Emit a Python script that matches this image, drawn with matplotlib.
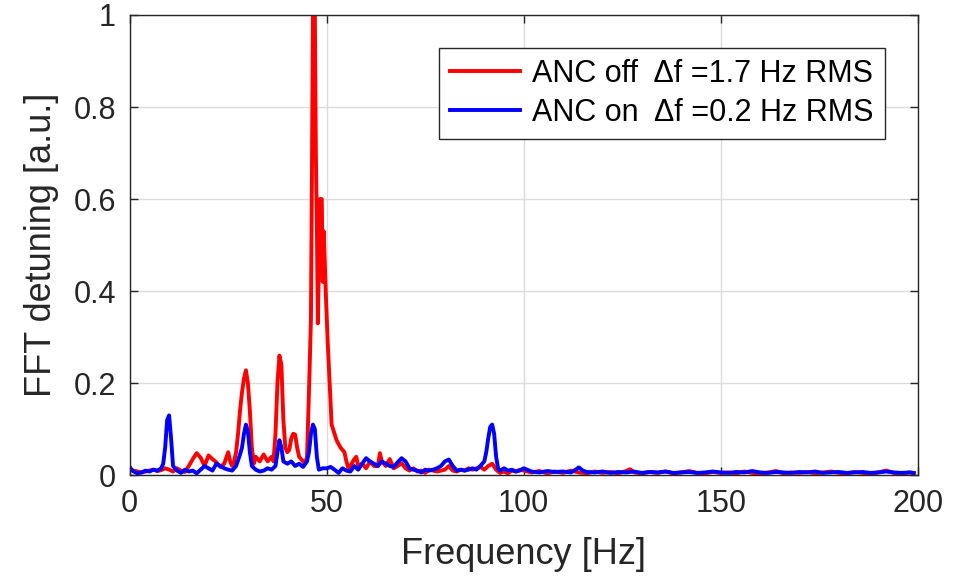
import matplotlib
matplotlib.use("Agg")
import matplotlib.pyplot as plt

# FFT of detuning, ANC off (red)
freq_off = [0, 1, 2, 3, 4, 5, 6, 7, 8, 9, 10, 11, 12, 13, 14, 15, 16, 17, 18, 19,
            20, 21, 22, 23, 24, 25, 25.5, 26, 26.5, 27, 27.5, 28, 28.5, 29, 29.5,
            30, 30.5, 31, 31.5, 32, 33, 34, 35, 36, 36.5, 37, 37.5, 38, 38.5, 39,
            39.5, 40, 40.5, 41, 41.5, 42, 42.5, 43, 43.5, 44, 44.5,
            45, 45.5, 46, 46.25, 46.5, 47, 47.25, 47.5, 47.75, 48, 48.25, 48.75,
            49, 49.25, 49.75, 50.25, 50.75, 51.25, 52, 52.5, 53.5, 54.5, 55, 55.5,
            56, 57, 57.5, 58, 59, 60, 61, 62, 63, 63.5, 64, 65, 66, 67,
            68, 69, 70, 71, 72, 73, 74, 75, 76, 77, 78, 79, 80, 81, 82, 83, 84,
            85, 86, 87, 88, 89, 90, 91, 92, 93, 94, 95, 96, 97, 98, 99, 100,
            102, 104, 106, 108, 110, 112, 114, 116, 118, 120, 122, 124, 126, 127,
            128, 130, 132, 134, 136, 138, 140, 142, 144, 146, 148, 150, 152, 154,
            156, 158, 160, 162, 164, 166, 168, 170, 172, 174, 176, 178, 180, 182,
            184, 186, 188, 190, 192, 194, 196, 198, 199]
amp_off = [0.012, 0.01, 0.008, 0.006, 0.008, 0.01, 0.012, 0.009, 0.011, 0.015,
           0.012, 0.008, 0.015, 0.01, 0.007, 0.02, 0.035, 0.048, 0.038, 0.02,
           0.043, 0.035, 0.028, 0.018, 0.025, 0.05, 0.03, 0.02, 0.03, 0.05, 0.09,
           0.14, 0.18, 0.21, 0.228, 0.2, 0.14, 0.06, 0.025, 0.04, 0.03, 0.045,
           0.03, 0.04, 0.03, 0.09, 0.2, 0.26, 0.24, 0.12, 0.06, 0.05, 0.055,
           0.08, 0.09, 0.088, 0.06, 0.04, 0.035, 0.03, 0.025,
           0.04, 0.18, 0.34, 0.65, 1.0, 1.0, 0.7, 0.55, 0.33, 0.45, 0.6, 0.6,
           0.42, 0.53, 0.4, 0.29, 0.2, 0.11, 0.09, 0.076, 0.06, 0.05, 0.03, 0.015,
           0.02, 0.035, 0.04, 0.02, 0.025, 0.015, 0.03,
           0.02, 0.02, 0.048, 0.03, 0.02, 0.035, 0.015, 0.02, 0.026, 0.015, 0.01,
           0.015, 0.008, 0.01, 0.005, 0.012, 0.01, 0.008, 0.01, 0.012, 0.02,
           0.01, 0.008, 0.012, 0.01, 0.015, 0.012, 0.015, 0.018, 0.012, 0.02,
           0.025, 0.012, 0.005, 0.008, 0.004, 0.01, 0.008, 0.012, 0.01,
           0.006, 0.009, 0.004, 0.008, 0.005, 0.01, 0.006, 0.004, 0.008, 0.005,
           0.007, 0.004, 0.009, 0.013, 0.006, 0.004, 0.007, 0.005, 0.008, 0.004,
           0.006, 0.009, 0.005, 0.004, 0.007, 0.005, 0.006, 0.004, 0.008, 0.005,
           0.003, 0.006, 0.009, 0.004, 0.006, 0.005, 0.007, 0.004, 0.006, 0.008,
           0.005, 0.004, 0.007, 0.005, 0.003, 0.006, 0.01, 0.005, 0.004, 0.006,
           0.004]

# FFT of detuning, ANC on (blue)
freq_on = [0, 0.5, 1, 2, 3, 4, 5, 6, 7, 8, 8.5, 9, 9.5, 10, 10.5, 11, 12, 13, 14,
           15, 16, 17, 18, 19, 20, 21, 22, 23, 24, 25, 26, 27, 28, 28.5, 29,
           29.5, 30, 30.5, 31, 32, 33, 34, 35, 36, 37, 37.5, 38, 38.5, 39, 40,
           41, 42, 43, 44, 45, 45.5, 46, 46.5, 47, 47.5, 48, 49, 50, 51, 52, 53,
           54, 55, 56, 57, 58, 59, 60, 61, 62, 63, 64, 65, 66, 67, 68, 69, 70,
           71, 72, 73, 74, 75, 76, 77, 78, 79, 80, 81, 82, 83, 84, 85, 86, 87,
           88, 89, 90, 90.5, 91, 91.5, 92, 92.5, 93, 93.5, 94, 95, 96, 97, 98,
           99, 100, 102, 104, 106, 108, 110, 112, 113, 114, 115, 116, 118, 120,
           122, 124, 126, 128, 130, 132, 134, 136, 138, 140, 142, 144, 146, 148,
           150, 152, 154, 156, 158, 160, 162, 164, 166, 168, 170, 172, 174, 176,
           178, 180, 182, 184, 186, 188, 190, 192, 194, 196, 198, 199]
amp_on = [0.018, 0.012, 0.008, 0.004, 0.006, 0.01, 0.008, 0.012, 0.01, 0.015,
          0.025, 0.06, 0.12, 0.13, 0.08, 0.02, 0.01, 0.005, 0.012, 0.008, 0.01,
          0.004, 0.012, 0.02, 0.015, 0.01, 0.025, 0.02, 0.015, 0.012, 0.01,
          0.02, 0.045, 0.06, 0.09, 0.11, 0.095, 0.05, 0.02, 0.012, 0.008, 0.01,
          0.015, 0.012, 0.02, 0.05, 0.076, 0.06, 0.03, 0.025, 0.03, 0.02, 0.025,
          0.018, 0.03, 0.05, 0.09, 0.11, 0.1, 0.04, 0.012, 0.015, 0.015, 0.018,
          0.012, 0.005, 0.015, 0.01, 0.008, 0.02, 0.012, 0.025, 0.037, 0.03,
          0.025, 0.02, 0.03, 0.025, 0.02, 0.018, 0.028, 0.037, 0.03, 0.015,
          0.012, 0.01, 0.006, 0.012, 0.01, 0.012, 0.015, 0.02, 0.03, 0.034,
          0.02, 0.01, 0.012, 0.01, 0.012, 0.015, 0.012, 0.02, 0.03, 0.05, 0.08,
          0.105, 0.11, 0.09, 0.04, 0.015, 0.01, 0.015, 0.01, 0.012, 0.008, 0.01,
          0.015, 0.008, 0.006, 0.009, 0.007, 0.008, 0.006, 0.011, 0.017, 0.01,
          0.007, 0.006, 0.008, 0.005, 0.007, 0.006, 0.008, 0.005, 0.007, 0.006,
          0.008, 0.005, 0.006, 0.007, 0.005, 0.006, 0.008, 0.006, 0.005, 0.007,
          0.006, 0.009, 0.006, 0.005, 0.007, 0.006, 0.005, 0.007, 0.006, 0.008,
          0.005, 0.006, 0.007, 0.005, 0.006, 0.007, 0.005, 0.006, 0.008, 0.006,
          0.005, 0.006, 0.005]

labels = ["ANC off  \u0394f =1.7 Hz RMS", "ANC on  \u0394f =0.2 Hz RMS"]
xticks = [0, 50, 100, 150, 200]
yticks = [0, 0.2, 0.4, 0.6, 0.8, 1]
ytick_labels = ["0", "0.2", "0.4", "0.6", "0.8", "1"]

plt.rcParams["font.family"] = ["Liberation Sans", "DejaVu Sans"]
dark = "#262626"

fig = plt.figure(figsize=(9.68, 5.76), dpi=100)
ax = fig.add_axes([0.134, 0.175, 0.814, 0.799])

ax.plot(freq_off, amp_off, color="#ff0000", lw=2.8, label=labels[0])
ax.plot(freq_on, amp_on, color="#0000ff", lw=2.8, label=labels[1])

ax.set_xlim(0, 200)
ax.set_ylim(0, 1)
ax.set_xticks(xticks)
ax.set_yticks(yticks)
ax.set_yticklabels(ytick_labels)
ax.grid(True, color="#dcdcdc", lw=1.0)
ax.set_axisbelow(True)
ax.tick_params(direction="in", length=6, width=1, colors=dark,
               labelsize=22, top=True, right=True, pad=10)
for s in ax.spines.values():
    s.set_color(dark)
    s.set_linewidth(1.0)

ax.set_xlabel("Frequency [Hz]", fontsize=26, color=dark, labelpad=13)
ax.set_ylabel("FFT detuning [a.u.]", fontsize=26, color=dark, labelpad=10)

leg = ax.legend(loc="upper right", bbox_to_anchor=(0.958, 0.928),
                borderaxespad=0, fontsize=22, frameon=True, fancybox=False,
                edgecolor=dark, framealpha=1, handlelength=2.3,
                borderpad=0.35, labelspacing=0.3, handletextpad=0.4)
leg.get_frame().set_linewidth(1.0)

fig.savefig("out.png", dpi=100)
